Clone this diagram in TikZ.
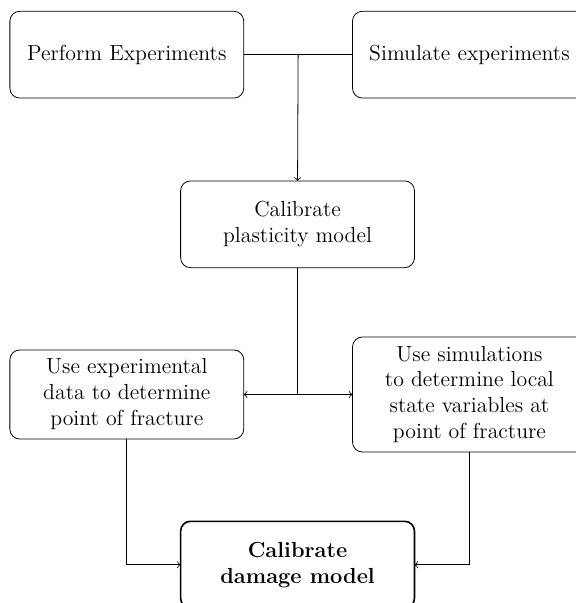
\documentclass[tikz,border=0pt]{standalone}
\usepackage{tikz}
\usetikzlibrary{positioning}
\usetikzlibrary{shapes,arrows,calc}
\tikzset{
    %Define standard arrow tip
    >=to,
    % Define arrow style
    pil/.style={
           ->,
           color=black,
           thin,}
}
\newcommand{\boxheight}{1.54cm}

\begin{document}
\begin{tikzpicture}[node distance=0 cm, outer sep = 0pt]
\tikzstyle{stepbox}=[draw=black, fill=white, rectangle, thin, rounded corners=5pt,
                   minimum height=\boxheight, minimum width=4.15cm, align=center,
                   inner ysep=4.5pt, font=\fontsize{11}{13.1}\selectfont]
\tikzstyle{finalbox}=[stepbox, thick, font=\fontsize{11}{13.1}\selectfont\bfseries]

\useasboundingbox (0cm,0cm) rectangle (10.22cm,-10.70cm);

%%%%%%%%%%%%%%%%%%%%%%%%%%%%%%%%%
% Experiments and simulations
%%%%%%%%%%%%%%%%%%%%%%%%%%%%%%%%%
    \node[stepbox] (perform) at (2.25cm,-0.97cm) {Perform Experiments};
    \node[stepbox] (simulate) at (8.33cm,-0.97cm) {Simulate experiments};

%%%%%%%%%%%%%%%%%%%%%%%%%%%%%%%%%
% Calibration
%%%%%%%%%%%%%%%%%%%%%%%%%%%%%%%%%
    \node[stepbox] (plasticity) at (5.28cm,-3.98cm) {Calibrate\\plasticity model};
    \node[stepbox] (usedata) at (2.25cm,-7.00cm) {Use experimental\\data to determine\\point of fracture};
    \node[stepbox] (usesim) at (8.33cm,-7.00cm) {Use simulations\\to determine local\\state variables at\\point of fracture};
    \node[finalbox] (damage) at (5.28cm,-10.02cm) {Calibrate\\damage model};

\coordinate (join) at ($(perform.east)!0.5!(simulate.west)$);
\coordinate (split) at (plasticity.south |- usedata.east);

\draw[thin] (perform.east) -- (simulate.west);
\path[pil] (join) edge (plasticity.north);
\draw[thin] (plasticity.south) -- (split);
\path[pil] (split) edge (usedata.east);
\path[pil] (split) edge (usesim.west);
\draw[pil] (usedata.south) |- (damage.west);
\draw[pil] (usesim.south) |- (damage.east);

\end{tikzpicture}
\end{document}
